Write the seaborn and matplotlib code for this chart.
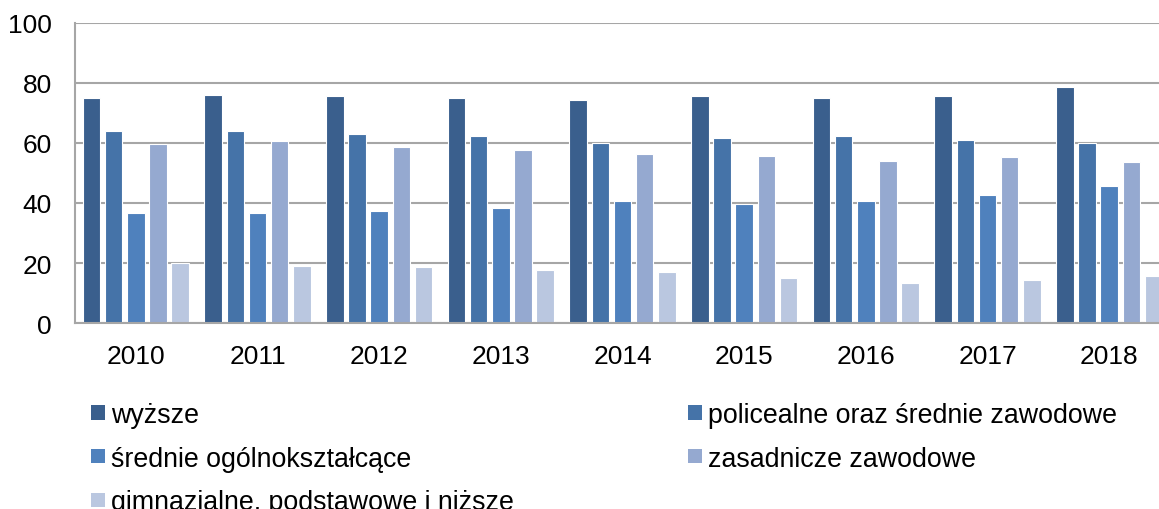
import matplotlib
matplotlib.use("Agg")
import matplotlib.pyplot as plt
import seaborn as sns
import pandas as pd
from matplotlib.patches import Patch

years = ["2010", "2011", "2012", "2013", "2014", "2015", "2016", "2017", "2018"]
series_names = [
    "wyższe",
    "policealne oraz średnie zawodowe",
    "średnie ogólnokształcące",
    "zasadnicze zawodowe",
    "gimnazjalne, podstawowe i niższe",
]
wyzsze = [75.0, 76.0, 75.6, 75.0, 74.2, 75.6, 75.0, 75.6, 78.6]
policealne = [63.9, 63.9, 63.1, 62.2, 60.0, 61.8, 62.2, 60.9, 60.0]
srednie_ogolne = [36.6, 36.6, 37.3, 38.2, 40.8, 39.7, 40.8, 42.6, 45.6]
zasadnicze = [59.7, 60.6, 58.8, 57.6, 56.2, 55.8, 54.1, 55.3, 53.7]
gimnazjalne = [20.0, 18.9, 18.6, 17.7, 16.9, 15.1, 13.4, 14.2, 15.6]
colors = ["#3A5F8D", "#4573A8", "#4F81BD", "#95A9D0", "#BAC7E0"]

values = [wyzsze, policealne, srednie_ogolne, zasadnicze, gimnazjalne]
rows = []
for name, vals in zip(series_names, values):
    for y, v in zip(years, vals):
        rows.append({"rok": y, "seria": name, "wartosc": v})
df = pd.DataFrame(rows)

sns.set_theme(style="white")
plt.rcParams["font.family"] = ["Liberation Sans", "DejaVu Sans"]
plt.rcParams["text.color"] = "black"

fig = plt.figure(figsize=(11.59, 5.10), dpi=100)
ax = fig.add_axes([75 / 1159, (510 - 324) / 510, (1170 - 75) / 1159, 300 / 510])

sns.barplot(data=df, x="rok", y="wartosc", hue="seria", hue_order=series_names,
            order=years, palette=colors, saturation=1, width=0.91, gap=0.21,
            edgecolor="white", linewidth=0.8, ax=ax, legend=False, errorbar=None)

ax.set_ylim(0, 100)
ax.set_yticks([0, 20, 40, 60, 80, 100])
ax.set_xlim(-0.5, 8.5)
ax.set_xlabel("")
ax.set_ylabel("")
ax.yaxis.grid(True, color="#A6A6A6", linewidth=1.5)
ax.set_axisbelow(True)
for s in ["top", "right"]:
    ax.spines[s].set_visible(False)
for s in ["left", "bottom"]:
    ax.spines[s].set_color("#A6A6A6")
    ax.spines[s].set_linewidth(1.5)
ax.tick_params(axis="both", length=0, labelsize=19, colors="black")
ax.tick_params(axis="y", pad=16.5)
ax.tick_params(axis="x", pad=15)

handles = [Patch(facecolor=c, edgecolor="none") for c in colors]
order = [0, 2, 4, 1, 3]
leg = fig.legend([handles[i] for i in order], [series_names[i] for i in order],
                 ncol=2, loc="upper left", bbox_to_anchor=(91 / 1159, 1 - 403 / 510),
                 frameon=False, fontsize=19.3, handlelength=0.54, handleheight=0.46,
                 handletextpad=0.2, labelspacing=0.66, columnspacing=6.5,
                 borderpad=0, borderaxespad=0, labelcolor="black")

fig.savefig("out.png", dpi=100)
